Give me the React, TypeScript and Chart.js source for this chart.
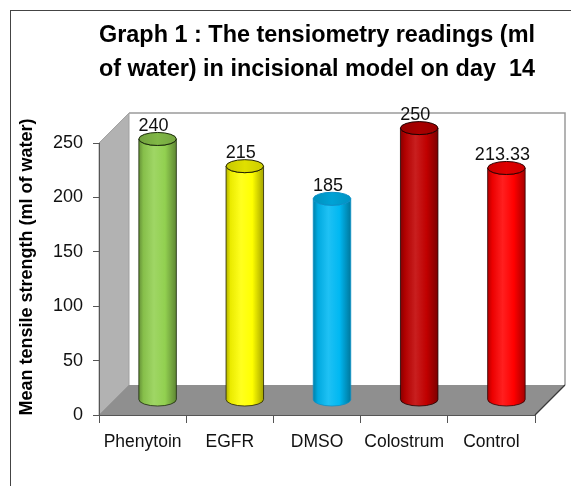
import React, { useEffect, useRef } from "react";
import { Chart, registerables } from "chart.js";

Chart.register(...registerables);

const categories = ["Phenytoin", "EGFR", "DMSO", "Colostrum", "Control"];
const values = [240, 215, 185, 250, 213.33];
const valueLabels = ["240", "215", "185", "250", "213.33"];
const barColors = ["#92D050", "#FFFF00", "#00B8F2", "#C00000", "#FF0000"];
const outlineColors = ["#1a2a0a", "#222200", "#0a90c8", "#200000", "#300000"];
const titleLines = [
  "Graph 1 : The tensiometry readings (ml",
  "of water) in incisional model on day  14",
];
const yAxisTitle = "Mean tensile strength (ml of water)";
const yMin = 0;
const yMax = 250;
const yStep = 50;

const FONT = "'Liberation Sans', Arial, sans-serif";
const DEPTH = 30;

function hexToRgb(hex: string) {
  const h = hex.replace("#", "");
  return [
    parseInt(h.slice(0, 2), 16),
    parseInt(h.slice(2, 4), 16),
    parseInt(h.slice(4, 6), 16),
  ];
}
function shade(hex: string, f: number) {
  const [r, g, b] = hexToRgb(hex);
  const m = (c: number) =>
    Math.round(f < 0 ? c * (1 + f) : c + (255 - c) * f);
  return `rgb(${m(r)},${m(g)},${m(b)})`;
}

function drawCylinder(
  ctx: CanvasRenderingContext2D,
  cx: number,
  top: number,
  bottom: number,
  w: number,
  base: string,
  outline: string
) {
  const rx = w / 2;
  const ry = 6.5;
  const x0 = cx - rx;
  const x1 = cx + rx;
  const g = ctx.createLinearGradient(x0, 0, x1, 0);
  g.addColorStop(0, shade(base, -0.3));
  g.addColorStop(0.12, shade(base, -0.08));
  g.addColorStop(0.4, shade(base, 0.12));
  g.addColorStop(0.7, base);
  g.addColorStop(1, shade(base, -0.35));
  ctx.save();
  ctx.beginPath();
  ctx.moveTo(x0, top);
  ctx.lineTo(x0, bottom);
  ctx.ellipse(cx, bottom, rx, ry, 0, Math.PI, 0, true);
  ctx.lineTo(x1, top);
  ctx.ellipse(cx, top, rx, ry, 0, 0, Math.PI, false);
  ctx.closePath();
  ctx.fillStyle = g;
  ctx.fill();
  ctx.lineWidth = 0.8;
  ctx.strokeStyle = outline;
  ctx.stroke();
  const tg = ctx.createLinearGradient(x0, 0, x1, 0);
  tg.addColorStop(0, shade(base, -0.22));
  tg.addColorStop(0.5, shade(base, -0.12));
  tg.addColorStop(1, shade(base, -0.2));
  ctx.beginPath();
  ctx.ellipse(cx, top, rx, ry, 0, 0, Math.PI * 2);
  ctx.fillStyle = tg;
  ctx.fill();
  ctx.lineWidth = 1;
  ctx.strokeStyle = outline;
  ctx.stroke();
  ctx.restore();
}

const threeD = {
  id: "threeD",
  beforeDraw(chart: any) {
    const { ctx, chartArea } = chart;
    const { left, right, top, bottom } = chartArea;
    const d = DEPTH;
    ctx.save();
    ctx.fillStyle = "#ffffff";
    ctx.fillRect(left + d, top - d, right - left, bottom - top);
    ctx.strokeStyle = "#9a9a9a";
    ctx.lineWidth = 1.5;
    ctx.beginPath();
    ctx.moveTo(left + d, top - d);
    ctx.lineTo(right + d, top - d);
    ctx.lineTo(right + d, bottom - d);
    ctx.stroke();
    ctx.beginPath();
    ctx.moveTo(left, top);
    ctx.lineTo(left + d, top - d);
    ctx.lineTo(left + d, bottom - d);
    ctx.lineTo(left, bottom);
    ctx.closePath();
    ctx.fillStyle = "#b2b2b2";
    ctx.fill();
    ctx.strokeStyle = "#a0a0a0";
    ctx.lineWidth = 1;
    ctx.stroke();
    ctx.beginPath();
    ctx.moveTo(left, bottom);
    ctx.lineTo(left + d, bottom - d);
    ctx.lineTo(right + d, bottom - d);
    ctx.lineTo(right, bottom);
    ctx.closePath();
    ctx.fillStyle = "#8f8f8f";
    ctx.fill();
    ctx.strokeStyle = "#3a3a3a";
    ctx.lineWidth = 1.2;
    ctx.beginPath();
    ctx.moveTo(right, bottom);
    ctx.lineTo(right + d, bottom - d);
    ctx.stroke();
    ctx.restore();
  },
  afterDatasetsDraw(chart: any) {
    const { ctx } = chart;
    const meta = chart.getDatasetMeta(0);
    const h = DEPTH / 2;
    meta.data.forEach((el: any, i: number) => {
      const cx = el.x + h;
      const top = el.y - h;
      const bot = el.base - h;
      drawCylinder(ctx, cx, top, bot, el.width, barColors[i], outlineColors[i]);
      ctx.save();
      ctx.fillStyle = "#111";
      ctx.font = `18px ${FONT}`;
      ctx.textAlign = "center";
      ctx.textBaseline = "alphabetic";
      ctx.fillText(valueLabels[i], cx - 4, top - 8);
      ctx.restore();
    });
  },
  afterDraw(chart: any) {
    const { ctx } = chart;
    ctx.save();
    ctx.translate(16, 256);
    ctx.rotate(-Math.PI / 2);
    ctx.font = `bold 18px ${FONT}`;
    ctx.fillStyle = "#000";
    ctx.textAlign = "center";
    ctx.textBaseline = "middle";
    ctx.fillText(yAxisTitle, 0, 0);
    ctx.restore();
  },
};

export default function App() {
  const ref = useRef<HTMLCanvasElement | null>(null);
  useEffect(() => {
    if (!ref.current) return;
    const chart = new Chart(ref.current, {
      type: "bar",
      data: {
        labels: categories,
        datasets: [
          {
            data: values,
            backgroundColor: "rgba(0,0,0,0)",
            borderWidth: 0,
            barPercentage: 0.43,
            categoryPercentage: 1,
          },
        ],
      },
      options: {
        responsive: false,
        animation: false,
        devicePixelRatio: 1,
        layout: { padding: { left: 0, right: 44, top: 0, bottom: 26 } },
        plugins: {
          legend: { display: false },
          tooltip: { enabled: false },
          title: {
            display: true,
            fullSize: false,
            text: titleLines,
            color: "#000",
            font: { family: FONT, size: 23.5, weight: "bold", lineHeight: 1.47 },
            padding: { top: 7, bottom: 56 },
          },
        },
        scales: {
          x: {
            grid: {
              offset: true,
              drawOnChartArea: false,
              tickLength: 8,
              color: "#555",
            },
            border: { color: "#555" },
            ticks: {
              font: { family: FONT, size: 17.5 },
              color: "#111",
              padding: 9,
              maxRotation: 0,
              minRotation: 0,
              autoSkip: false,
            },
            afterFit(s: any) {
              s.height = 40;
            },
          },
          y: {
            min: yMin,
            max: yMax,
            ticks: {
              stepSize: yStep,
              font: { family: FONT, size: 18 },
              color: "#111",
              padding: 10,
            },
            grid: { drawOnChartArea: false, tickLength: 6, color: "#555" },
            border: { color: "#555" },
            afterFit(s: any) {
              s.width = 88;
            },
          },
        },
      },
      plugins: [threeD],
    } as any);
    return () => chart.destroy();
  }, []);
  return (
    <div style={{ paddingLeft: 2, paddingTop: 2 }}>
      <div
        style={{
          borderLeft: "1px solid #444",
          borderTop: "1px solid #444",
          width: 568,
          height: 475,
        }}
      >
        <canvas
          ref={ref}
          width={568}
          height={470}
          style={{ display: "block", width: 568, height: 470 }}
        />
      </div>
    </div>
  );
}
